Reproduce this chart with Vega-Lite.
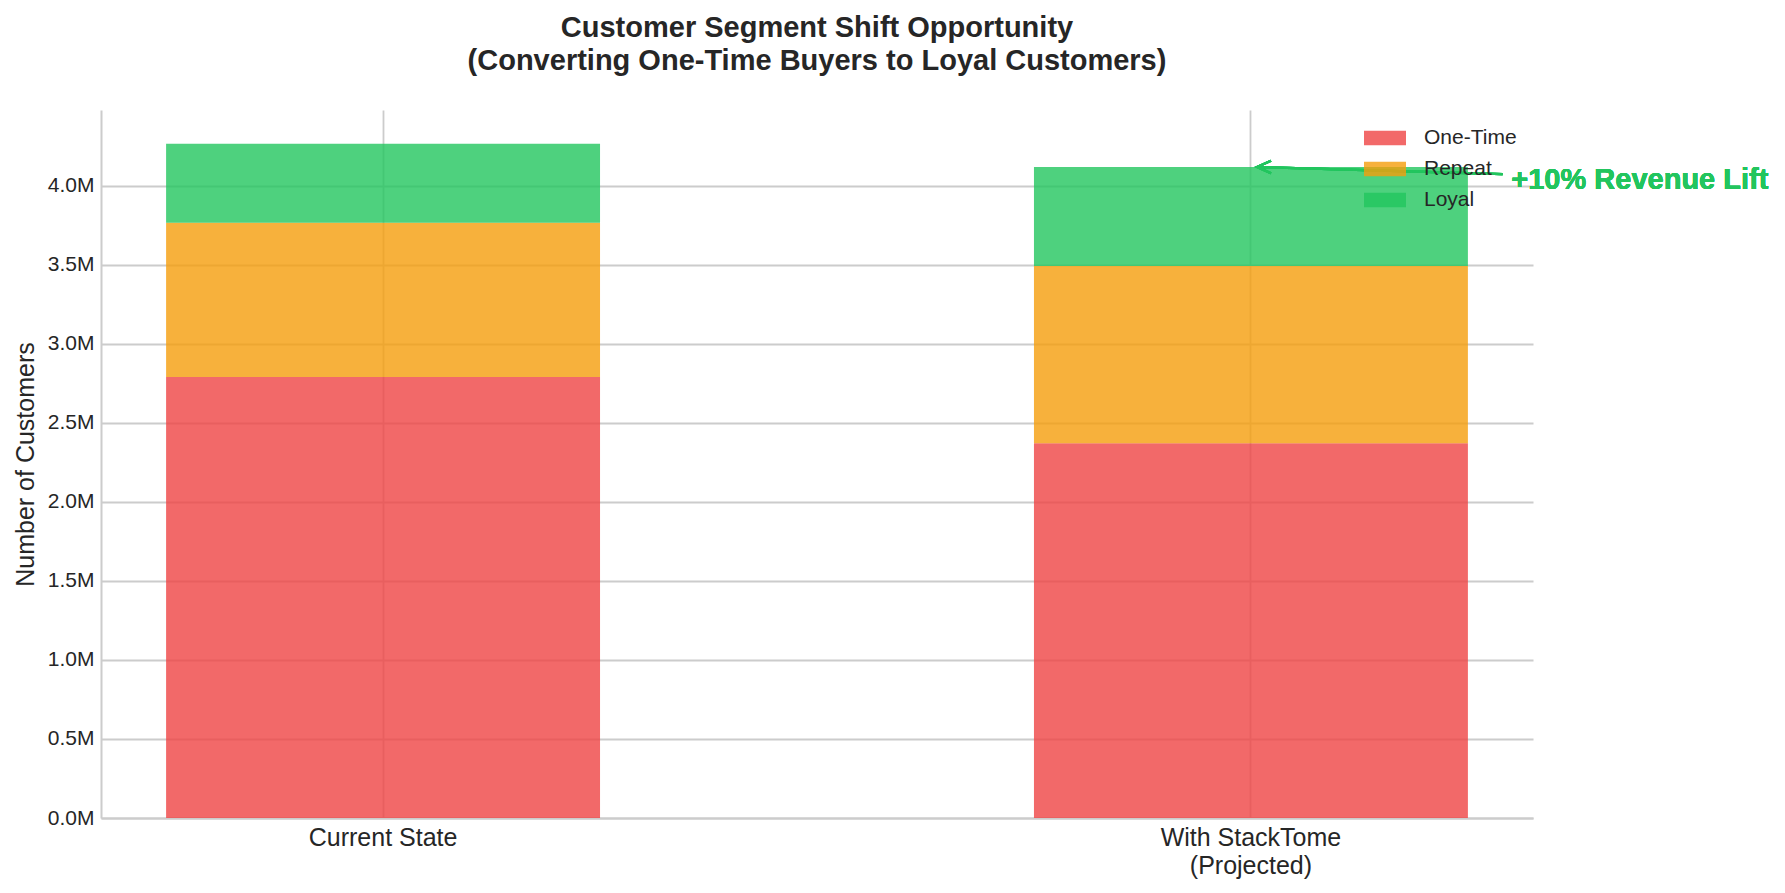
{
  "$schema": "https://vega.github.io/schema/vega-lite/v6.json",
  "autosize": {"type": "none"},
  "padding": {"left": 101, "top": 110, "right": 252, "bottom": 75},
  "width": 1432,
  "height": 708,
  "background": "white",
  "title": {
    "text": ["Customer Segment Shift Opportunity", "(Converting One-Time Buyers to Loyal Customers)"],
    "font": "Liberation Sans",
    "fontSize": 29,
    "fontWeight": "bold",
    "color": "#262626",
    "lineHeight": 33,
    "anchor": "middle",
    "frame": "group",
    "offset": 34
  },
  "config": {
    "view": {"stroke": null},
    "font": "Liberation Sans",
    "axis": {
      "gridColor": "#cccccc",
      "gridWidth": 1.8,
      "domainColor": "#cccccc",
      "domainWidth": 2,
      "ticks": false,
      "labelColor": "#262626",
      "titleColor": "#262626",
      "labelFont": "Liberation Sans",
      "titleFont": "Liberation Sans",
      "titleFontWeight": "normal"
    }
  },
  "data": {
    "values": [
      {"state": "Current State", "segment": "One-Time", "seg_order": 1, "customers": 2790000},
      {"state": "Current State", "segment": "Repeat", "seg_order": 2, "customers": 975000},
      {"state": "Current State", "segment": "Loyal", "seg_order": 3, "customers": 500000},
      {"state": "With StackTome (Projected)", "segment": "One-Time", "seg_order": 1, "customers": 2371500},
      {"state": "With StackTome (Projected)", "segment": "Repeat", "seg_order": 2, "customers": 1121250},
      {"state": "With StackTome (Projected)", "segment": "Loyal", "seg_order": 3, "customers": 625000}
    ]
  },
  "layer": [
    {
      "mark": {"type": "bar", "opacity": 0.8},
      "encoding": {
        "x": {
          "field": "state",
          "type": "nominal",
          "sort": null,
          "scale": {"paddingInner": 0.5, "paddingOuter": 0.075},
          "axis": {
            "title": null,
            "grid": true,
            "bandPosition": 0.5,
            "labelAngle": 0,
            "labelFontSize": 25,
            "labelPadding": 7,
            "labelLineHeight": 28,
            "labelLimit": 0,
            "labelExpr": "datum.label == 'With StackTome (Projected)' ? ['With StackTome', '(Projected)'] : datum.label"
          }
        },
        "y": {
          "field": "customers",
          "type": "quantitative",
          "stack": "zero",
          "scale": {"domain": [0, 4479000], "nice": false},
          "axis": {
            "title": "Number of Customers",
            "titleFontSize": 25,
            "titlePadding": 9,
            "grid": true,
            "values": [0, 500000, 1000000, 1500000, 2000000, 2500000, 3000000, 3500000, 4000000],
            "labelExpr": "format(datum.value / 1000000, '.1f') + 'M'",
            "labelFontSize": 21,
            "labelPadding": 7
          }
        },
        "color": {
          "field": "segment",
          "type": "nominal",
          "scale": {
            "domain": ["One-Time", "Repeat", "Loyal"],
            "range": ["#ef4444", "#f59e0b", "#22c55e"]
          },
          "legend": {
            "title": null,
            "orient": "none",
            "legendX": 1263,
            "legendY": 7,
            "padding": 0,
            "symbolType": "M-1,-0.35H1V0.35H-1Z",
            "symbolSize": 1764,
            "symbolOpacity": 0.8,
            "symbolStrokeWidth": 0,
            "labelFontSize": 21,
            "labelFont": "Liberation Sans",
            "labelColor": "#262626",
            "labelOffset": 18,
            "rowPadding": -3
          }
        },
        "order": {"field": "seg_order", "type": "quantitative", "sort": "ascending"}
      }
    },
    {
      "mark": {"type": "rule", "color": "#22c55e", "strokeWidth": 2.2},
      "encoding": {
        "x": {"datum": 1.29, "type": "quantitative", "scale": {"domain": [-0.325, 1.325], "nice": false, "zero": false}, "axis": null},
        "x2": {"datum": 1.007},
        "y": {"datum": 4073000, "type": "quantitative"},
        "y2": {"datum": 4118000}
      }
    },
    {
      "mark": {"type": "point", "shape": "M1,-0.45L0,0L1,0.45", "size": 784, "filled": false, "color": "#22c55e", "strokeWidth": 2.2, "opacity": 1},
      "encoding": {
        "x": {"datum": 1.007, "type": "quantitative", "scale": {"domain": [-0.325, 1.325], "nice": false, "zero": false}, "axis": null},
        "y": {"datum": 4118000, "type": "quantitative"}
      }
    },
    {
      "mark": {"type": "text", "text": "+10% Revenue Lift", "align": "left", "baseline": "middle", "font": "Liberation Sans", "fontSize": 29, "fontWeight": "bold", "color": "#22c55e"},
      "encoding": {
        "x": {"datum": 1.3, "type": "quantitative", "scale": {"domain": [-0.325, 1.325], "nice": false, "zero": false}, "axis": null},
        "y": {"datum": 4035000, "type": "quantitative"}
      }
    }
  ],
  "resolve": {"scale": {"x": "independent"}, "axis": {"x": "independent"}}
}
